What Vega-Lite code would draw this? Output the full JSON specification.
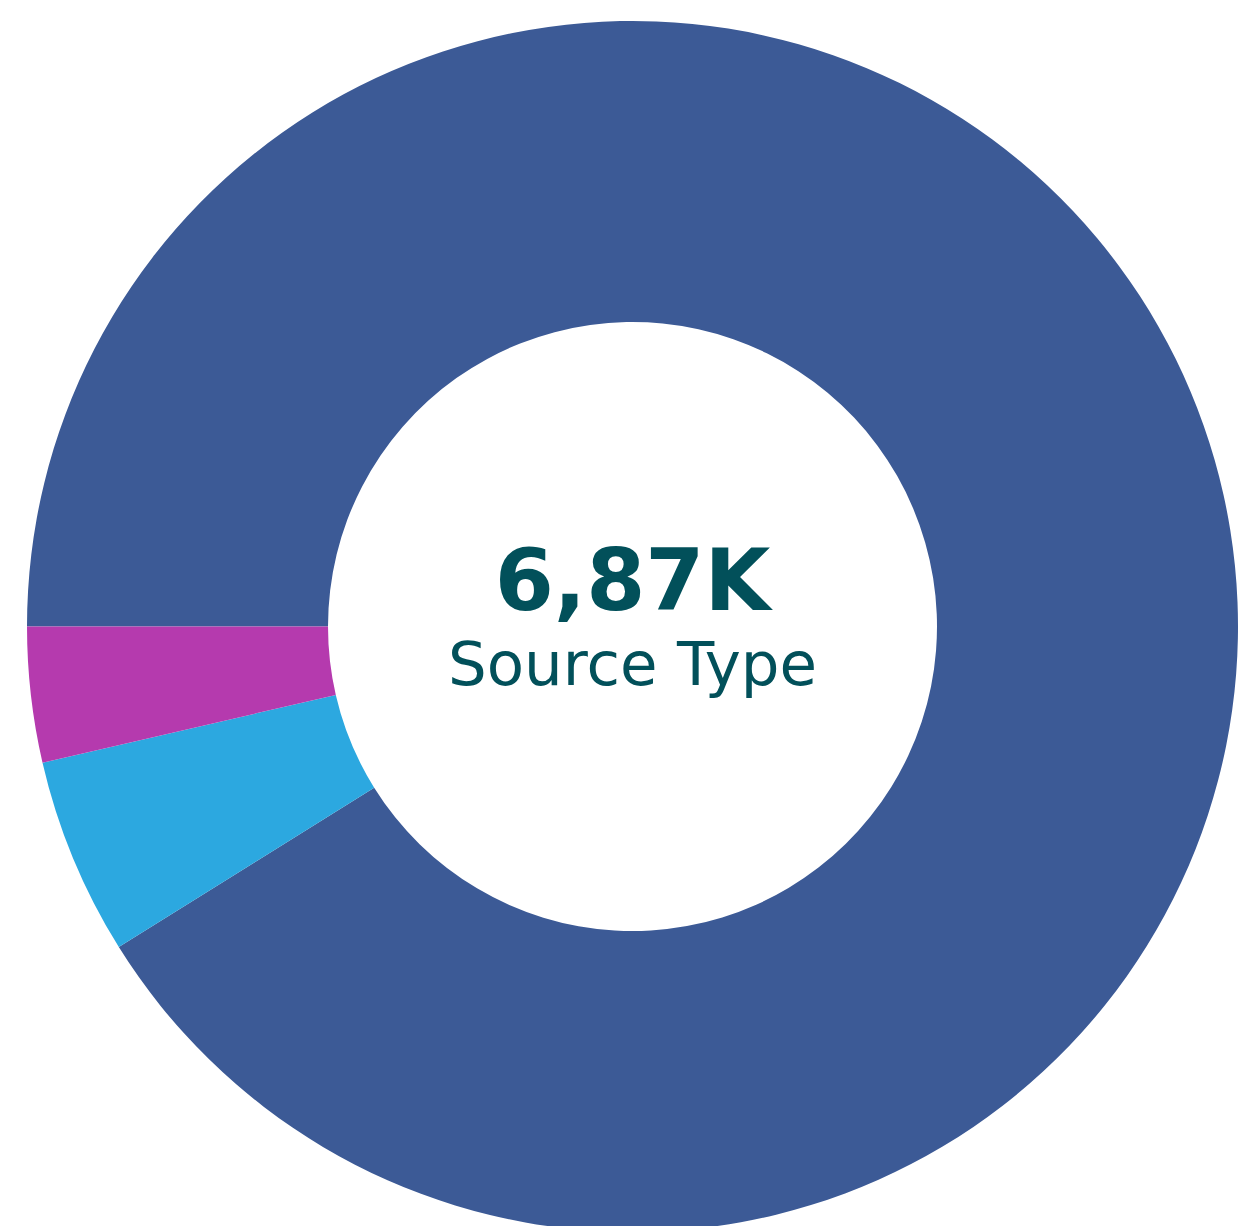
{
  "$schema": "https://vega.github.io/schema/vega-lite/v6.json",
  "autosize": {"type": "fit", "contains": "padding"},
  "width": 1256,
  "height": 1226,
  "padding": {"left": 9, "top": 27, "right": 0, "bottom": 0},
  "background": "white",
  "view": {"stroke": null},
  "layer": [
    {
      "data": {
        "values": [
          {"source_type": "Type A", "rank": 1, "count": 6260},
          {"source_type": "Type B", "rank": 2, "count": 362},
          {"source_type": "Type C", "rank": 3, "count": 248}
        ]
      },
      "mark": {"type": "arc", "outerRadius": 605.5, "innerRadius": 304.5},
      "encoding": {
        "theta": {"field": "count", "type": "quantitative", "stack": true, "scale": {"range": [4.71239, 10.99557]}},
        "order": {"field": "rank", "type": "quantitative"},
        "color": {
          "field": "source_type",
          "type": "nominal",
          "scale": {"domain": ["Type A", "Type B", "Type C"], "range": ["#3C5A96", "#2CA8E0", "#B53AAE"]},
          "legend": null
        }
      }
    },
    {
      "data": {"values": [{"label": "6,87K"}]},
      "mark": {"type": "text", "font": "DejaVu Sans", "fontWeight": "bold", "fontSize": 85, "color": "#02505A", "baseline": "alphabetic", "align": "center", "dy": -16.5},
      "encoding": {"text": {"field": "label", "type": "nominal"}}
    },
    {
      "data": {"values": [{"label": "Source Type"}]},
      "mark": {"type": "text", "font": "DejaVu Sans", "fontSize": 61, "color": "#02505A", "baseline": "alphabetic", "align": "center", "dy": 58.5},
      "encoding": {"text": {"field": "label", "type": "nominal"}}
    }
  ]
}
